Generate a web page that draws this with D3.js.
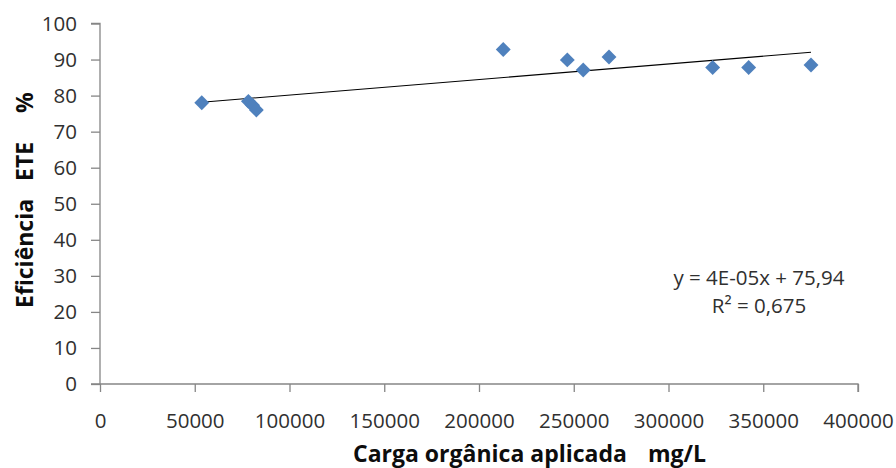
<!DOCTYPE html>
<html><head><meta charset="utf-8">
<script src="https://cdn.jsdelivr.net/npm/d3@7"></script>
<style>body{margin:0;background:#fff}svg{display:block}</style>
</head><body><svg id="c" width="896" height="468"></svg>
<script>
const carga = [53700, 78300, 80500, 82500, 212800, 246600, 255000, 268600, 323300, 342300, 375200];
const eficiencia = [78.0, 78.4, 77.3, 76.0, 92.8, 89.9, 87.1, 90.7, 87.8, 87.8, 88.5];
const xTicks = [0, 50000, 100000, 150000, 200000, 250000, 300000, 350000, 400000];
const yTicks = [0, 10, 20, 30, 40, 50, 60, 70, 80, 90, 100];
const equationLines = ["y = 4E-05x + 75,94", "R\u00b2 = 0,675"];
const xTitleParts = ["Carga org\u00e2nica aplicada", "mg/L"];
const yTitleParts = ["Efici\u00eancia", "ETE", "%"];

const svg = d3.select("#c");
const font = "'Open Sans', sans-serif";
const x = d3.scaleLinear().domain([0, 400000]).range([100, 858]);
const y = d3.scaleLinear().domain([0, 100]).range([384, 23.5]);

const axisColor = "#868686";
const gx = svg.append("g").attr("transform", "translate(0,384)")
  .call(d3.axisBottom(x).tickValues(xTicks).tickFormat(d3.format("d")).tickSize(8).tickPadding(21));
const gy = svg.append("g").attr("transform", "translate(100,0)")
  .call(d3.axisLeft(y).tickValues(yTicks).tickSize(9).tickPadding(14));
[gx, gy].forEach(g => {
  g.select(".domain").attr("stroke", axisColor).attr("stroke-width", 1.3);
  g.selectAll(".tick line").attr("stroke", axisColor).attr("stroke-width", 1.3);
  g.selectAll("text").attr("font-family", font).attr("font-size", 20.5).attr("fill", "#303030");
});
gx.select(".domain").attr("d", `M-9,0H${x(400000)}V8`).attr("transform", "translate(100,0) translate(-100,0)");
gx.select(".domain").attr("d", `M${x(0)-9},0H${x(400000)}V8`);
gy.select(".domain").attr("d", `M-9,${y(100)}H0V${y(0)}`);

// linear regression trend line computed from the data
const n = carga.length;
const mx = d3.mean(carga), my = d3.mean(eficiencia);
let sxy = 0, sxx = 0;
for (let i = 0; i < n; i++) { sxy += (carga[i]-mx)*(eficiencia[i]-my); sxx += (carga[i]-mx)**2; }
const slope = sxy / sxx, icpt = my - slope * mx;
const x0 = d3.min(carga), x1 = d3.max(carga);
svg.append("line")
  .attr("x1", x(x0)).attr("y1", y(icpt + slope*x0))
  .attr("x2", x(x1)).attr("y2", y(icpt + slope*x1))
  .attr("stroke", "#000").attr("stroke-width", 1.1);

// markers
const sym = d3.symbol().type(d3.symbolDiamond2).size(2*8.4*8.4);
svg.append("g").selectAll("path").data(carga.map((c,i)=>[c, eficiencia[i]])).join("path")
  .attr("d", sym)
  .attr("transform", d => `translate(${x(d[0])},${y(d[1])})`)
  .attr("fill", "#4F81BD");

// equation
svg.append("g").selectAll("text").data(equationLines).join("text")
  .attr("x", 759).attr("y", (d,i) => 285 + i*28)
  .attr("text-anchor", "middle")
  .attr("font-family", font).attr("font-size", 20.5).attr("fill", "#303030")
  .text(d => d);

// axis titles
const xt = svg.append("text").attr("y", 462)
  .attr("font-family", font).attr("font-weight", "bold").attr("font-size", 23).attr("fill", "#0d0d0d");
xt.selectAll("tspan").data(xTitleParts).join("tspan")
  .attr("x", (d,i) => [353, 648][i]).text(d => d);

const yt = svg.append("text").attr("transform", "translate(33,0) rotate(-90)")
  .attr("font-family", font).attr("font-weight", "bold").attr("font-size", 23).attr("fill", "#0d0d0d");
yt.selectAll("tspan").data(yTitleParts).join("tspan")
  .attr("x", (d,i) => -[308, 181, 113][i]).text(d => d);
</script></body></html>
